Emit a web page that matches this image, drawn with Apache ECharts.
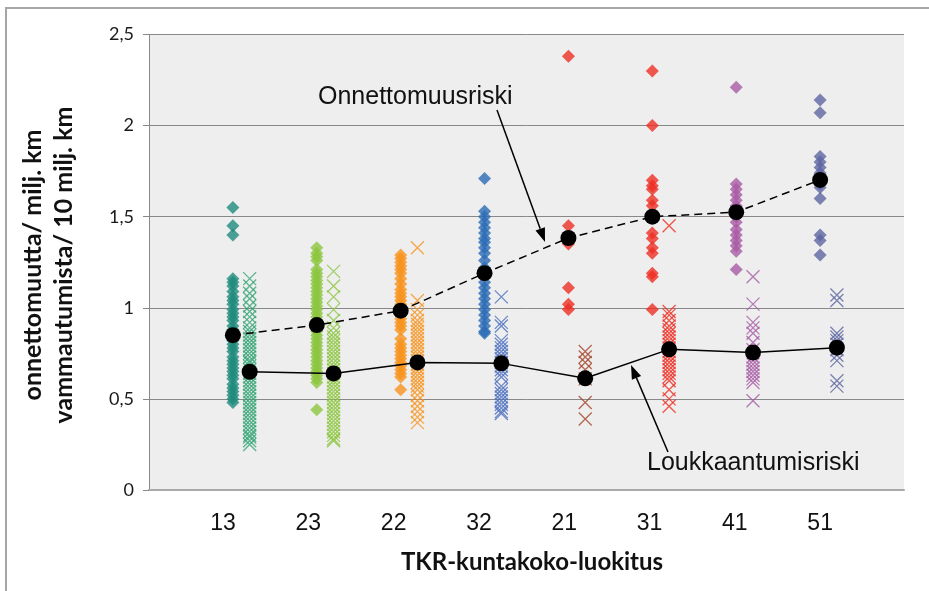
<!DOCTYPE html>
<html>
<head>
<meta charset="utf-8">
<script src="https://cdn.jsdelivr.net/npm/echarts@6/dist/echarts.min.js"></script>
<style>
  html, body { margin: 0; padding: 0; background: #ffffff; }
  #chart { width: 929px; height: 591px; }
</style>
</head>
<body>
<div id="chart"></div>
<script>
// TKR municipality size classes, in drawing order
const categories = ['13', '23', '22', '32', '21', '31', '41', '51'];
const yTicks = [0, 0.5, 1, 1.5, 2, 2.5];

// Class averages: accidents per million km and injuries per 10 million km
const onnettomuusriski = [0.85, 0.905, 0.984, 1.19, 1.383, 1.50, 1.525, 1.702];
const loukkaantumisriski = [0.649, 0.64, 0.70, 0.695, 0.613, 0.772, 0.754, 0.781];

// Municipality values: accidents / million km (diamonds)
const onn13 = [1.55, 1.45, 1.40, 1.16, 1.14, 1.12, 1.09, 1.06, 1.04, 1.02, 0.99, 0.97, 0.95, 0.93, 0.90, 0.88, 0.86, 0.84, 0.82, 0.80, 0.78, 0.76, 0.73, 0.71, 0.69, 0.67, 0.65, 0.63, 0.61, 0.58, 0.56, 0.54, 0.52, 0.50, 0.48];
const onn23 = [1.33, 1.30, 1.28, 1.26, 1.21, 1.19, 1.17, 1.15, 1.13, 1.11, 1.09, 1.07, 1.05, 1.03, 1.01, 0.99, 0.97, 0.95, 0.93, 0.91, 0.89, 0.87, 0.85, 0.83, 0.81, 0.79, 0.77, 0.75, 0.73, 0.71, 0.69, 0.67, 0.65, 0.63, 0.61, 0.59, 0.44];
const onn22 = [1.29, 1.27, 1.25, 1.23, 1.21, 1.19, 1.16, 1.13, 1.10, 1.08, 1.06, 1.04, 1.02, 1.00, 0.98, 0.96, 0.94, 0.92, 0.90, 0.88, 0.83, 0.80, 0.78, 0.76, 0.74, 0.72, 0.70, 0.68, 0.66, 0.64, 0.62, 0.55];
const onn32 = [1.71, 1.53, 1.50, 1.47, 1.44, 1.41, 1.38, 1.36, 1.33, 1.30, 1.26, 1.22, 1.18, 1.14, 1.11, 1.08, 1.05, 1.02, 0.99, 0.96, 0.93, 0.90, 0.87, 0.86];
const onn21 = [2.38, 1.45, 1.39, 1.35, 1.11, 1.02, 0.99];
const onn31 = [2.30, 2.00, 1.70, 1.67, 1.65, 1.59, 1.56, 1.51, 1.41, 1.38, 1.33, 1.30, 1.19, 1.17, 0.99];
const onn41 = [2.21, 1.68, 1.65, 1.62, 1.59, 1.56, 1.53, 1.50, 1.47, 1.43, 1.40, 1.37, 1.34, 1.31, 1.21];
const onn51 = [2.14, 2.07, 1.83, 1.80, 1.77, 1.74, 1.71, 1.68, 1.66, 1.60, 1.40, 1.37, 1.29];

// Municipality values: injuries / 10 million km (crosses)
const louk13 = [1.16, 1.12, 1.08, 1.05, 1.01, 0.98, 0.95, 0.92, 0.89, 0.87, 0.85, 0.83, 0.81, 0.79, 0.77, 0.75, 0.73, 0.71, 0.70, 0.68, 0.66, 0.64, 0.62, 0.60, 0.58, 0.56, 0.54, 0.52, 0.50, 0.48, 0.46, 0.44, 0.42, 0.40, 0.38, 0.36, 0.34, 0.32, 0.30, 0.29, 0.27, 0.25];
const louk23 = [1.20, 1.12, 1.06, 0.99, 0.93, 0.89, 0.86, 0.84, 0.82, 0.80, 0.78, 0.76, 0.74, 0.72, 0.70, 0.68, 0.66, 0.64, 0.62, 0.60, 0.58, 0.56, 0.54, 0.52, 0.50, 0.48, 0.46, 0.44, 0.42, 0.40, 0.38, 0.36, 0.34, 0.32, 0.30, 0.28, 0.27];
const louk22 = [1.33, 1.04, 0.99, 0.96, 0.93, 0.91, 0.89, 0.87, 0.85, 0.83, 0.81, 0.79, 0.77, 0.75, 0.73, 0.71, 0.69, 0.67, 0.65, 0.63, 0.61, 0.59, 0.57, 0.55, 0.52, 0.49, 0.46, 0.43, 0.40, 0.37];
const louk32 = [1.06, 0.92, 0.90, 0.82, 0.80, 0.78, 0.76, 0.74, 0.72, 0.70, 0.68, 0.66, 0.64, 0.62, 0.57, 0.55, 0.53, 0.51, 0.49, 0.47, 0.45, 0.43, 0.42];
const louk21 = [0.76, 0.73, 0.70, 0.66, 0.61, 0.48, 0.39];
const louk31 = [1.45, 0.98, 0.96, 0.93, 0.90, 0.88, 0.86, 0.84, 0.82, 0.80, 0.78, 0.76, 0.74, 0.72, 0.70, 0.68, 0.66, 0.64, 0.62, 0.60, 0.55, 0.50, 0.46];
const louk41 = [1.17, 1.02, 0.92, 0.89, 0.86, 0.81, 0.77, 0.73, 0.71, 0.69, 0.67, 0.65, 0.63, 0.61, 0.59, 0.49];
const louk51 = [1.07, 1.04, 0.86, 0.84, 0.82, 0.80, 0.77, 0.74, 0.71, 0.60, 0.57];

const accidentGroups = [onn13, onn23, onn22, onn32, onn21, onn31, onn41, onn51];
const injuryGroups = [louk13, louk23, louk22, louk32, louk21, louk31, louk41, louk51];

// Marker colours per class
const diamondColors = ['#1f8b7d', '#8cc63e', '#f7941e', '#2c6cb5', '#ee2e24', '#ee2e24', '#a75ba5', '#5e65a1'];
const crossColors   = ['#33a476', '#8cc63e', '#f7941e', '#4d6fc1', '#a3452b', '#ee2e24', '#a75ba5', '#5e65a1'];

const CROSS_SHIFT = 0.2;   // injuries sit a little right of accidents
const CROSS = 'path://M0,0L12,12M12,0L0,12';

const series = [];
accidentGroups.forEach((vals, i) => {
  series.push({
    type: 'scatter', xAxisIndex: 0, yAxisIndex: 0, z: 2,
    symbol: 'diamond', symbolSize: 13,
    itemStyle: { color: diamondColors[i] },
    data: vals.map(v => [i + 1, v])
  });
});
injuryGroups.forEach((vals, i) => {
  series.push({
    type: 'scatter', xAxisIndex: 0, yAxisIndex: 0, z: 2,
    symbol: CROSS, symbolSize: 13,
    itemStyle: { color: 'rgba(0,0,0,0)', borderColor: crossColors[i], borderWidth: 1.3 },
    data: vals.map(v => [i + 1 + CROSS_SHIFT, v])
  });
});
series.push({
  name: 'Onnettomuusriski', type: 'line', xAxisIndex: 0, yAxisIndex: 0, z: 5,
  symbol: 'circle', symbolSize: 16, showSymbol: true,
  itemStyle: { color: '#000' },
  lineStyle: { color: '#000', width: 1.5, type: [8, 5] },
  data: onnettomuusriski.map((v, i) => [i + 1, v])
});
series.push({
  name: 'Loukkaantumisriski', type: 'line', xAxisIndex: 0, yAxisIndex: 0, z: 5,
  symbol: 'circle', symbolSize: 16, showSymbol: true,
  itemStyle: { color: '#000' },
  lineStyle: { color: '#000', width: 1.5 },
  data: loukkaantumisriski.map((v, i) => [i + 1 + CROSS_SHIFT, v])
});

// Annotation arrow: shaft plus filled head
function arrow(x1, y1, x2, y2) {
  const dx = x2 - x1, dy = y2 - y1, L = Math.hypot(dx, dy);
  const ux = dx / L, uy = dy / L, hl = 14, hw = 5;
  const bx = x2 - ux * hl, by = y2 - uy * hl;
  return [
    { type: 'line', z: 50, shape: { x1: x1, y1: y1, x2: bx, y2: by }, style: { stroke: '#000', lineWidth: 1.5 } },
    { type: 'polygon', z: 50, shape: { points: [[x2, y2], [bx - uy * hw, by + ux * hw], [bx + uy * hw, by - ux * hw]] }, style: { fill: '#000' } }
  ];
}

const labelFont = 'Lato, "Open Sans", sans-serif';
const helv = '"Liberation Sans", Arial, sans-serif';

const option = {
  animation: false,
  backgroundColor: '#ffffff',
  grid: [
    { left: 149, right: 25, top: 34.5, bottom: 101, show: true, backgroundColor: '#edeeed', borderWidth: 0, z: 0 },
    { left: 180.4, right: 66.2, top: 34.5, bottom: 101, show: false }
  ],
  xAxis: [
    {
      type: 'value', gridIndex: 0, min: 0, max: 9, interval: 1,
      axisLine: { show: true, onZero: false, lineStyle: { color: '#a9a9a9', width: 2 } },
      axisTick: { show: false }, axisLabel: { show: false }, splitLine: { show: false }
    },
    {
      type: 'category', gridIndex: 1, data: categories, boundaryGap: true,
      axisLine: { show: false }, axisTick: { show: false }, splitLine: { show: false },
      axisLabel: { fontFamily: helv, fontSize: 23, color: '#111', margin: 22 }
    }
  ],
  yAxis: [
    {
      type: 'value', gridIndex: 0, min: 0, max: 2.5, interval: 0.5,
      axisLine: { show: true, lineStyle: { color: '#888888', width: 1 } },
      axisTick: { show: true, length: 6, lineStyle: { color: '#888888' } },
      splitLine: { show: true, lineStyle: { color: '#888888', width: 1 } },
      axisLabel: {
        fontFamily: labelFont, fontSize: 18, color: '#1a1a1a', margin: 15,
        formatter: v => String(yTicks.find(t => Math.abs(t - v) < 1e-9) ?? v).replace('.', ',')
      }
    },
    { type: 'value', gridIndex: 1, show: false, min: 0, max: 1 }
  ],
  series: series,
  graphic: [
    { type: 'rect', z: 0, shape: { x: 6, y: 8, width: 940, height: 600 }, style: { fill: 'none', stroke: '#a6a6a6', lineWidth: 2 } },
    {
      type: 'text', z: 50, x: 48, y: 265, rotation: Math.PI / 2,
      style: {
        text: 'onnettomuutta/ milj. km\nvammautumista/ 10 milj. km',
        font: 'bold 25px ' + labelFont, fill: '#111', align: 'center', verticalAlign: 'middle', lineHeight: 31
      }
    },
    {
      type: 'text', z: 50, x: 532, y: 562,
      style: { text: 'TKR-kuntakoko-luokitus', font: 'bold 24px ' + labelFont, fill: '#111', align: 'center', verticalAlign: 'middle' }
    },
    {
      type: 'text', z: 50, x: 318, y: 97,
      style: { text: 'Onnettomuusriski', font: '25px ' + helv, fill: '#111', align: 'left', verticalAlign: 'middle' }
    },
    {
      type: 'text', z: 50, x: 647, y: 463,
      style: { text: 'Loukkaantumisriski', font: '25px ' + helv, fill: '#111', align: 'left', verticalAlign: 'middle' }
    },
    ...arrow(497, 110, 545, 242),
    ...arrow(668, 452, 631, 365)
  ]
};

const chart = echarts.init(document.getElementById('chart'), null, { renderer: 'canvas' });
chart.setOption(option);
</script>
</body>
</html>
